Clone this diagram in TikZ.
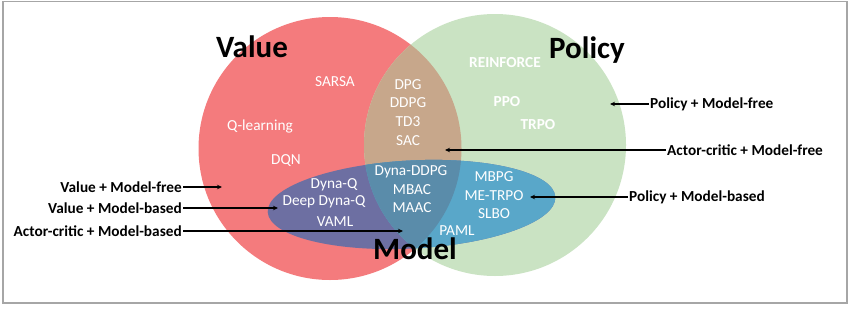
\documentclass[tikz,border=0pt]{standalone}
\usepackage{fontspec}
\setmainfont{Carlito}
\usetikzlibrary{arrows.meta}
\definecolor{valred}{HTML}{F47B7D}
\definecolor{polgreen}{HTML}{CAE3C3}
\definecolor{vpbrown}{HTML}{C7A78B}
\definecolor{vmpurple}{HTML}{6D6FA2}
\definecolor{pmblue}{HTML}{59A7C9}
\definecolor{acmteal}{HTML}{5A8CAA}

\begin{document}
\begin{tikzpicture}[x=1pt, y=-1pt,
  ttl/.style={font=\fontsize{31}{31}\selectfont\bfseries, inner sep=0pt},
  alg/.style={text=white, font=\fontsize{15.3}{17}\selectfont, inner sep=0pt},
  algb/.style={alg, font=\fontsize{15.3}{17}\selectfont\bfseries},
  lbl/.style={font=\fontsize{15.3}{17}\selectfont\bfseries, inner sep=1pt},
  arr/.style={-{Stealth[length=5pt, width=4.5pt]}, line width=1.3pt}]
\useasboundingbox (0,0) rectangle (850,308);
\draw[gray!70, line width=1.5pt] (3,1.5) rectangle (847,303);

% the three sets
\fill[valred] (330,148.5) circle (131.5);
\fill[polgreen] (495,145) circle (131);
\begin{scope}
  \clip (330,148.5) circle (131.5);
  \fill[vpbrown] (495,145) circle (131);
\end{scope}
\fill[vmpurple, rotate around={3:(411.5,204.5)}] (411.5,204.5) ellipse [x radius=144, y radius=44];
\begin{scope}
  \clip (495,145) circle (131);
  \fill[pmblue, rotate around={3:(411.5,204.5)}] (411.5,204.5) ellipse [x radius=144, y radius=44];
  \clip (330,148.5) circle (131.5);
  \fill[acmteal, rotate around={3:(411.5,204.5)}] (411.5,204.5) ellipse [x radius=144, y radius=44];
\end{scope}

% titles
\node[ttl] (value) at (252,47) {Value};
\node[ttl] (policy) at (587,50) {Policy};
\node[ttl, anchor=base] (model) at (415,259) {Model};

% algorithms
\node[alg] (sarsa) at (335,82) {SARSA};
\node[alg] (qlearn) at (260,126) {Q-learning};
\node[alg] (dqn) at (286,161) {DQN};
\node[alg] (dpg) at (408,85) {DPG};
\node[alg] (ddpg) at (408,103) {DDPG};
\node[alg] (td3) at (408,122) {TD3};
\node[alg] (sac) at (408,141) {SAC};
\node[algb] (reinf) at (505,63) {REINFORCE};
\node[algb] (ppo) at (507,102) {PPO};
\node[algb] (trpo) at (538,125) {TRPO};
\node[alg] (dynaq) at (334,185) {Dyna-Q};
\node[alg] (ddynaq) at (324,202) {Deep Dyna-Q};
\node[alg] (vaml) at (335,222) {VAML};
\node[alg] (dynaddpg) at (411,172) {Dyna-DDPG};
\node[alg] (mbac) at (412,190) {MBAC};
\node[alg] (maac) at (412,208) {MAAC};
\node[alg] (mbpg) at (494,177) {MBPG};
\node[alg] (metrpo) at (494,196) {ME-TRPO};
\node[alg] (slbo) at (494,214) {SLBO};
\node[alg, anchor=base] (paml) at (457,235) {PAML};

% category labels
\node[lbl, anchor=east] (vmf) at (183,187) {Value + Model-free};
\node[lbl, anchor=east] (vmb) at (183,208) {Value + Model-based};
\node[lbl, anchor=east] (acmb) at (183,231) {Actor-critic + Model-based};
\node[lbl, anchor=west] (pmf) at (649,104) {Policy + Model-free};
\node[lbl, anchor=west] (acmf) at (666,150) {Actor-critic + Model-free};
\node[lbl, anchor=west] (pmb) at (628,197) {Policy + Model-based};

\coordinate (vmfT) at (222,187);
\coordinate (vmbT) at (278,208);
\coordinate (acmbT) at (403,231);
\coordinate (pmfT) at (610,104);
\coordinate (acmfT) at (445,150);
\coordinate (pmbT) at (530,197);

\draw[arr] (vmf.east) -- (vmfT);
\draw[arr] (vmb.east) -- (vmbT);
\draw[arr] (acmb.east) -- (acmbT);
\draw[arr] (pmf.west) -- (pmfT);
\draw[arr] (acmf.west) -- (acmfT);
\draw[arr] (pmb.west) -- (pmbT);
\end{tikzpicture}
\end{document}
